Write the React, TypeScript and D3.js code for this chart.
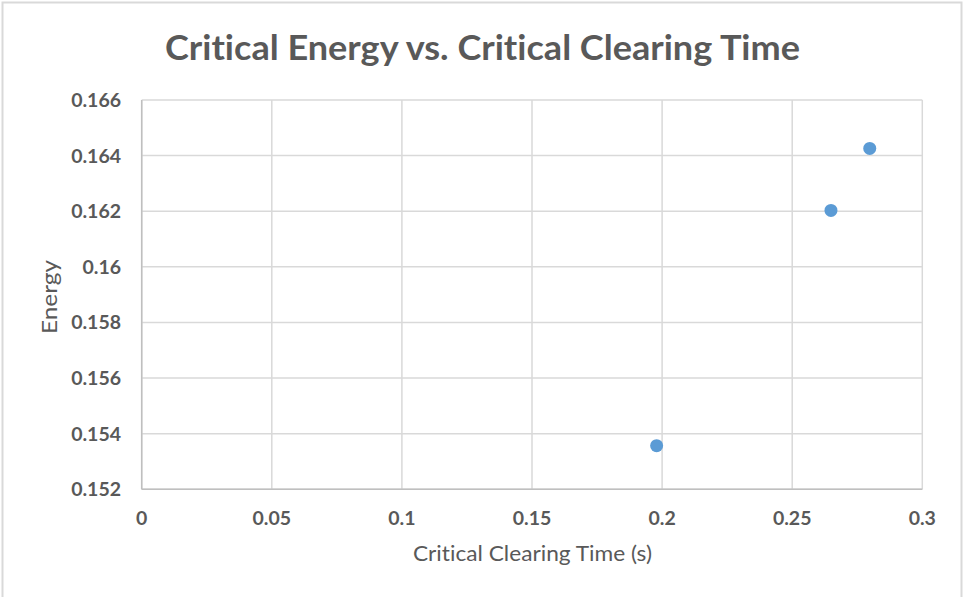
import React from "react";
import * as d3 from "d3";

const clearingTimes = [0.1979, 0.2649, 0.2798];
const energies = [0.15357, 0.16203, 0.16426];
const xTicks = [0, 0.05, 0.1, 0.15, 0.2, 0.25, 0.3];
const yTicks = [0.152, 0.154, 0.156, 0.158, 0.16, 0.162, 0.164, 0.166];
const title = "Critical Energy vs. Critical Clearing Time";
const xTitle = "Critical Clearing Time (s)";
const yTitle = "Energy";

const W = 963, H = 597;
const left = 141.7, right = 922.3, top = 100, bottom = 489.3;
const FONT = "Lato, 'Open Sans', sans-serif";
const TXT = "#595959";
const noLig = { fontVariantLigatures: "none" as const };

export default function App() {
  const x = d3.scaleLinear().domain([0, 0.3]).range([left, right]);
  const y = d3.scaleLinear().domain([0.152, 0.166]).range([bottom, top]);
  const fmt = (v: number) => String(+v.toFixed(3));
  return (
    <svg width={W} height={H} style={{ position: "absolute", left: 0, top: 0, background: "#fff" }}>
      <rect x={2.5} y={2.5} width={959} height={H + 10} fill="#fff" stroke="#d9d9d9" strokeWidth={2} />
      {yTicks.map((t) => (
        <line key={"gy" + t} x1={left} x2={right} y1={y(t)} y2={y(t)} stroke="#d9d9d9" strokeWidth={1.5} />
      ))}
      {xTicks.map((t) => (
        <line key={"gx" + t} x1={x(t)} x2={x(t)} y1={top} y2={bottom} stroke="#d9d9d9" strokeWidth={1.5} />
      ))}
      <line x1={left} x2={left} y1={top} y2={bottom} stroke="#bfbfbf" strokeWidth={1.5} />
      <line x1={left} x2={right} y1={bottom} y2={bottom} stroke="#bfbfbf" strokeWidth={1.5} />
      {yTicks.map((t) => (
        <text key={"ty" + t} x={121} y={y(t)} dy="0.36em" textAnchor="end" fontFamily={FONT} fontWeight="bold" fontSize={19.5} fill={TXT} style={noLig}>
          {fmt(t)}
        </text>
      ))}
      {xTicks.map((t) => (
        <text key={"tx" + t} x={x(t)} y={525} textAnchor="middle" fontFamily={FONT} fontWeight="bold" fontSize={19.5} fill={TXT} style={noLig}>
          {fmt(t)}
        </text>
      ))}
      {clearingTimes.map((c, i) => (
        <circle key={"p" + i} cx={x(c)} cy={y(energies[i])} r={6.5} fill="#5b9bd5" />
      ))}
      <text x={482.5} y={60} textAnchor="middle" fontFamily={FONT} fontWeight="bold" fontSize={35} fill={TXT} textLength={635} lengthAdjust="spacingAndGlyphs" style={noLig}>
        {title}
      </text>
      <text x={532.5} y={561} textAnchor="middle" fontFamily={FONT} fontSize={22} fill={TXT} textLength={239} lengthAdjust="spacingAndGlyphs" style={noLig}>
        {xTitle}
      </text>
      <text transform={`translate(57,297) rotate(-90)`} textAnchor="middle" fontFamily={FONT} fontSize={22} fill={TXT} textLength={74} lengthAdjust="spacingAndGlyphs" style={noLig}>
        {yTitle}
      </text>
    </svg>
  );
}
